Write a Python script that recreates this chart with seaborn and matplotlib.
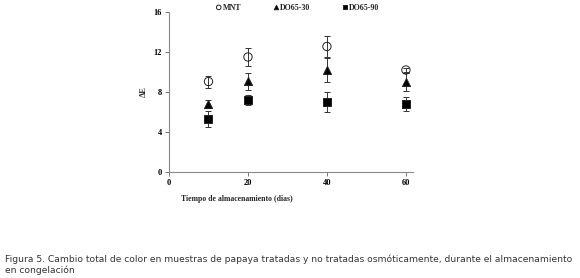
import numpy as np
import pandas as pd
import seaborn as sns
from matplotlib import pyplot as plt

dias = [10, 20, 40, 60]
series = ["MNT", "DO65-30", "DO65-90"]
mnt = [9.05, 11.5, 12.55, 10.2]
mnt_err = [0.6, 0.9, 1.05, 0.2]
do30 = [6.8, 9.1, 10.2, 9.0]
do30_err = [0.4, 0.85, 1.2, 0.9]
do90 = [5.3, 7.2, 7.05, 6.8]
do90_err = [0.8, 0.5, 1.0, 0.7]

data = pd.DataFrame({
    "dias": dias * 3,
    "dE": mnt + do30 + do90,
    "err": mnt_err + do30_err + do90_err,
    "serie": [s for s in series for _ in dias],
})

sns.set_style("ticks")
plt.rcParams["font.family"] = ["Liberation Serif", "DejaVu Serif"]

fig = plt.figure(figsize=(5.8, 2.78), dpi=100)
ax = fig.add_axes([0.2914, 0.381, 0.4207, 0.576])

for s in series:
    d = data[data.serie == s]
    ax.errorbar(d.dias, d.dE, yerr=d.err, fmt="none", ecolor="#333333",
                elinewidth=0.7, capsize=2.2, capthick=0.7, zorder=1)

markers = {"MNT": "o", "DO65-30": "^", "DO65-90": "s"}
sizes = {"MNT": 36, "DO65-30": 34, "DO65-90": 30}
for s in series:
    d = data[data.serie == s]
    face = "none" if s == "MNT" else "black"
    sns.scatterplot(data=d, x="dias", y="dE", marker=markers[s], s=sizes[s],
                    facecolor=face, edgecolor="#222222", linewidth=0.7, ax=ax,
                    label=s, zorder=3)

ax.set_xlim(0, 61.8)
ax.set_ylim(0, 16)
ax.set_xticks([0, 20, 40, 60])
ax.set_yticks([0, 4, 8, 12, 16])
ax.tick_params(labelsize=6, length=3, width=0.7, colors="#777777",
               labelcolor="black", pad=2)
for lab in ax.get_xticklabels() + ax.get_yticklabels():
    lab.set_fontweight("bold")
for sp in ["left", "bottom"]:
    ax.spines[sp].set_linewidth(0.8)
    ax.spines[sp].set_color("#888888")
sns.despine(ax=ax)

ax.set_xlabel("")
ax.set_ylabel("ΔE", fontsize=6, fontweight="bold", labelpad=4)
fig.text(181 / 580, 1 - 199 / 278, "Tiempo de almacenamiento (dias)",
         fontsize=5.6, fontweight="bold", va="center", ha="left")

handles, labels = ax.get_legend_handles_labels()
ax.legend_.remove()
fig.legend(handles, labels, loc="center", bbox_to_anchor=(295 / 580, 1 - 7.5 / 278),
           ncol=3, frameon=False, prop={"size": 5.8, "weight": "bold"},
           handletextpad=-0.5, columnspacing=3.3, markerscale=0.55)

fig.text(5 / 580, 1 - 264.5 / 278,
         "Figura 5. Cambio total de color en muestras de papaya tratadas y no tratadas osmóticamente, durante el almacenamiento\nen congelación",
         fontsize=6.6, family="DejaVu Sans", color="#333333", va="center",
         ha="left", linespacing=1.2)

fig.savefig("out.png", dpi=100)
